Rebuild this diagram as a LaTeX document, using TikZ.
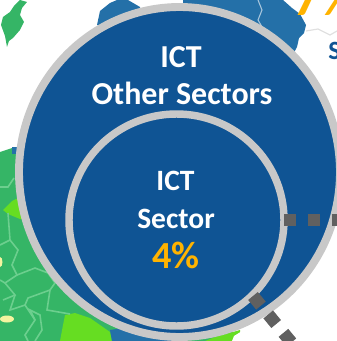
\documentclass[tikz,border=0pt]{standalone}
\usepackage{fontspec}
\setmainfont{Carlito}
\definecolor{discblue}{HTML}{0F5494}
\definecolor{ringgrey}{HTML}{C8C8C8}
\definecolor{dashgrey}{HTML}{606060}
\definecolor{mapblue}{HTML}{2470A8}
\definecolor{mapgreen}{HTML}{35B566}
\definecolor{mapline}{HTML}{6CCF8E}
\definecolor{mapbright}{HTML}{66DD22}
\definecolor{mapyellow}{HTML}{F4F4A0}
\definecolor{pctorange}{HTML}{FFB300}
\tikzset{
	disc/.style={fill=discblue, draw=ringgrey},
	border/.style={color=mapline, line width=0.9pt},
	label/.style={anchor=base, inner sep=0, text=white, font=\bfseries\fontsize{#1}{#1}\selectfont},
	pct/.style={anchor=base, inner sep=0, text=pctorange, font=\bfseries\fontsize{#1}{#1}\selectfont},
	link/.style={color=dashgrey, line width=7.1pt, dash pattern=on 7.1pt off 6.5pt}
}

\begin{document}
\begin{tikzpicture}[x=0.02cm, y=-0.02cm]
	%%%%% START %%%%%
	\useasboundingbox (0, 0) rectangle (337, 341);
	\clip (0, 0) rectangle (337, 341);

	% map behind the discs
	\fill[color=mapgreen] (20, 0) -- (27, 2) -- (22, 8) -- (20, 15) -- (24, 22) -- (20, 30) -- (13, 38) -- (9, 41) -- (7, 47) -- (5, 36) -- (1, 25) -- (3, 17) -- (10, 12) -- (14, 6) -- cycle;
	\fill[color=mapblue] (97, 25) -- (100, 11) -- (110, 3) -- (117, 0) -- (128, 0) -- (140, 7) -- (140, 30) -- cycle;
	\fill[color=mapblue] (183, 0) -- (283, 0) -- (292, 8) -- (300, 14) -- (306, 25) -- (304, 33) -- (299, 38) -- (297, 47) -- (290, 60) -- (183, 40) -- cycle;
	\draw[color=white!60!mapblue, line width=0.6pt] (258, 0) -- (262, 10) -- (258, 20) -- (265, 32);
	\draw[color=black!12, line width=0.7pt] (306, 31) -- (318, 29) -- (330, 35) -- (337, 31);

	\fill[color=mapgreen] (0, 152) -- (15, 147) -- (60, 147) -- (240, 341) -- (0, 341) -- cycle;
	\fill[color=mapblue] (12, 147) rectangle (18, 154);
	\fill[color=mapbright] (20, 197) -- (12, 201) -- (3, 210) -- (8, 214) -- (20, 219) -- (30, 220) -- (30, 197) -- cycle;
	\fill[color=mapbright] (75, 313) -- (65, 315) -- (63, 325) -- (60, 341) -- (112, 341) -- (110, 332) -- (100, 325) -- (90, 318) -- cycle;
	\fill[color=mapblue] (110, 330) -- (112, 341) -- (175, 341) -- (175, 320) -- cycle;
	\fill[color=mapbright] (205, 341) -- (215, 337) -- (240, 330) -- (240, 341) -- cycle;
	\fill[color=white] (234, 336) -- (260, 320) -- (260, 341) -- (232, 341) -- cycle;
	\fill[color=mapyellow] (7, 319) ellipse (7 and 3.5);
	\fill[color=mapyellow] (0, 262) ellipse (2.5 and 5);

	\draw[border] (0, 187) -- (8, 187) -- (14, 178);
	\draw[border] (8, 213) -- (10, 240) -- (18, 250) -- (12, 265) -- (17, 275) -- (5, 283) -- (0, 280);
	\draw[border] (17, 275) -- (35, 268) -- (48, 273) -- (55, 283) -- (50, 290);
	\draw[border] (10, 240) -- (0, 245);
	\draw[border] (5, 283) -- (15, 295) -- (3, 300);
	\draw[border] (15, 295) -- (10, 310) -- (25, 305) -- (35, 320) -- (25, 335) -- (28, 341);
	\draw[border] (35, 320) -- (30, 310) -- (40, 315) -- (42, 330) -- (35, 341);
	\draw[border] (50, 290) -- (47, 310) -- (70, 314);
	\draw[border] (25, 305) -- (28, 298) -- (50, 290);
	\draw[border] (48, 273) -- (42, 260) -- (48, 250);

	% yellow figure and cut off word at the top right
	\node[pct=30, anchor=base west] (other) at (293, 16) {7\%};
	\node[anchor=base west, inner sep=0, text=discblue, font=\bfseries\fontsize{15}{15}\selectfont] (word) at (328, 60) {S};

	% discs
	\draw[disc, line width=4.5pt] (179.5, 172) ellipse (160.5 and 165);
	\draw[disc, line width=4.25pt] (176.5, 220) ellipse (107.5 and 106);

	% texts
	\node[label=18.2] (outerone) at (181, 68) {ICT};
	\node[label=18.2] (outertwo) at (182, 105) {Other Sectors};
	\node[label=16.8] (innerone) at (175.5, 190) {ICT};
	\node[label=16.8] (innertwo) at (176, 228) {Sector};
	\node[pct=21.8] (innerpct) at (176, 268) {4\%};

	% dashed links
	\coordinate (linkone) at (284, 220);
	\coordinate (linkoneend) at (345, 220);
	\coordinate (linktwo) at (253, 296);
	\coordinate (linktwoend) at (310, 365);
	\draw[link] (linkone) -- (linkoneend);
	\draw[link] (linktwo) -- (linktwoend);
	%%%%% END %%%%%
\end{tikzpicture}
\end{document}
